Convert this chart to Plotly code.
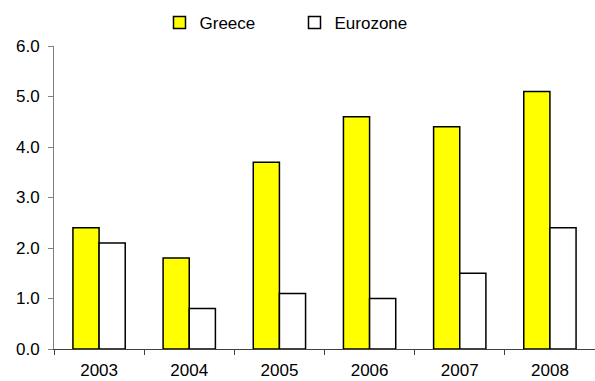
import plotly.graph_objects as go

years = ["2003", "2004", "2005", "2006", "2007", "2008"]
greece = [2.4, 1.8, 3.7, 4.6, 4.4, 5.1]
eurozone = [2.1, 0.8, 1.1, 1.0, 1.5, 2.4]
y_ticks = [0, 1, 2, 3, 4, 5, 6]

fig = go.Figure()
fig.add_trace(go.Bar(
    x=years, y=greece, name="Greece",
    marker=dict(color="#FFFF00", line=dict(color="#000000", width=1.5)),
))
fig.add_trace(go.Bar(
    x=years, y=eurozone, name="Eurozone",
    marker=dict(color="#FFFFFF", line=dict(color="#000000", width=1.5)),
))

fig.update_layout(
    width=595, height=381,
    margin=dict(l=54, r=0, t=46, b=32),
    paper_bgcolor="white", plot_bgcolor="white",
    barmode="group", bargap=0.42, bargroupgap=0,
    font=dict(family="Liberation Sans, Arial, sans-serif", size=17, color="#000000"),
    showlegend=True,
    legend=dict(
        orientation="h", x=0.195, xanchor="left", y=1.076, yanchor="middle",
        entrywidth=90, entrywidthmode="pixels",
        font=dict(size=17), bgcolor="rgba(0,0,0,0)",
    ),
    xaxis=dict(
        automargin=False,
        showline=True, linecolor="#404040", linewidth=1,
        ticks="outside", tickson="boundaries", ticklen=5, tickcolor="#404040",
        ticklabelstandoff=6,
        showgrid=False, tickfont=dict(size=17),
    ),
    yaxis=dict(
        automargin=False,
        range=[0, 6], tickvals=y_ticks,
        ticktext=[f"{v:.1f}" for v in y_ticks],
        showline=True, linecolor="#808080", linewidth=1,
        ticks="outside", ticklen=5, tickcolor="#808080",
        ticklabelstandoff=5,
        showgrid=False, zeroline=False, tickfont=dict(size=17),
    ),
)

fig.write_html("out.html")
